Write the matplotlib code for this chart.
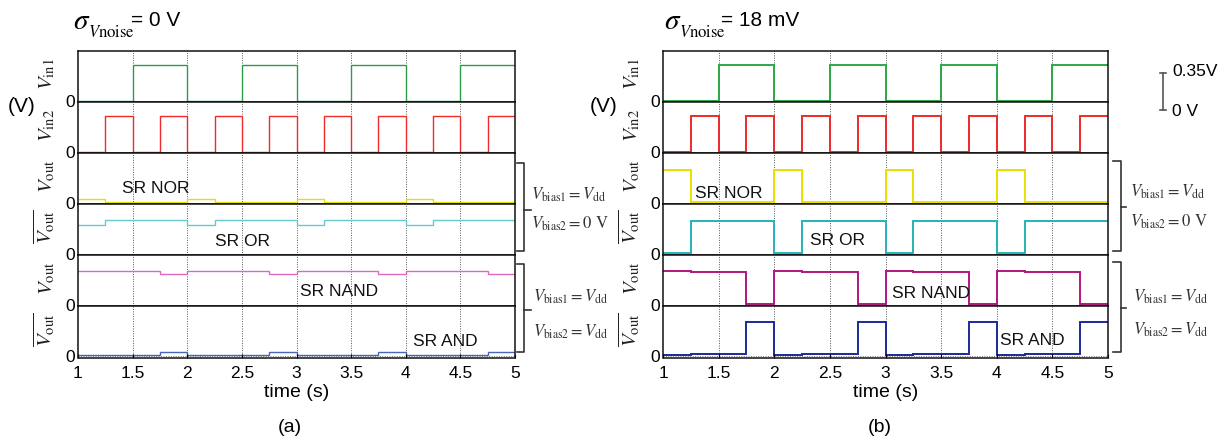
import matplotlib
matplotlib.use('Agg')
import matplotlib.pyplot as plt
from matplotlib.lines import Line2D

plt.rcParams['mathtext.fontset'] = 'stix'
plt.rcParams['font.family'] = ['Liberation Sans', 'DejaVu Sans']

W, H = 1228, 441

# ---------------- data ----------------
# segment edges (s): each signal is a piecewise-constant level per 0.25 s segment
edges = [1.0, 1.25, 1.5, 1.75, 2.0, 2.25, 2.5, 2.75, 3.0,
         3.25, 3.5, 3.75, 4.0, 4.25, 4.5, 4.75, 5.0]
xticks = [1, 1.5, 2, 2.5, 3, 3.5, 4, 4.5, 5]
xtick_labels = ['1', '1.5', '2', '2.5', '3', '3.5', '4', '4.5', '5']

vin1 = [0, 0, .35, .35, 0, 0, .35, .35, 0, 0, .35, .35, 0, 0, .35, .35]
vin2 = [0, .35, 0, .35, 0, .35, 0, .35, 0, .35, 0, .35, 0, .35, 0, .35]

# panel (a): sigma = 0 V
nor_a = [.04, .01, .01, .01, .04, .01, .01, .01, .04, .01, .01, .01, .04, .01, .01, .01]
or_a = [.285, .335, .335, .335, .285, .335, .335, .335, .285, .335, .335, .335, .285, .335, .335, .335]
nand_a = [.33, .33, .33, .30, .33, .33, .33, .30, .33, .33, .33, .30, .33, .33, .33, .30]
and_a = [.012, .012, .012, .04, .012, .012, .012, .04, .012, .012, .012, .04, .012, .012, .012, .04]

# panel (b): sigma = 18 mV
nor_b = [.32, .012, .012, .012, .32, .012, .012, .012, .32, .012, .012, .012, .32, .012, .012, .012]
or_b = [.012, .32, .32, .32, .012, .32, .32, .32, .012, .32, .32, .32, .012, .32, .32, .32]
nand_b = [.33, .325, .325, .012, .33, .325, .325, .012, .33, .325, .325, .012, .33, .325, .325, .012]
and_b = [.012, .02, .02, .33, .012, .02, .02, .33, .012, .02, .02, .33, .012, .02, .02, .33]

row_labels = [r'$V_{\rm in1}$', r'$V_{\rm in2}$', r'$V_{\rm out}$',
              r'$\overline{V_{\rm out}}$', r'$V_{\rm out}$', r'$\overline{V_{\rm out}}$']
gate_names = ['SR NOR', 'SR OR', 'SR NAND', 'SR AND']

colors_a = ['#2a9d48', '#ee2a2a', '#e6e000', '#66c9d2', '#e066c0', '#4a66b8']
colors_b = ['#2aa848', '#ee2a2a', '#ecdf00', '#22b5b8', '#b0177f', '#1c2a98']

fig = plt.figure(figsize=(W / 100, H / 100), dpi=100)


def fx(x):
    return x / W


def fy(y):
    return 1 - y / H


top_px, bot_px = 51.0, 357.5
row_h = (bot_px - top_px) / 6


def make_panel(left_px, width_px, series, colors, lw, gate_pos, title_x, eq_x, title_val):
    axes = []
    for i, (vals, col) in enumerate(zip(series, colors)):
        y_top = top_px + i * row_h
        ax = fig.add_axes([fx(left_px), fy(y_top + row_h), width_px / W, row_h / H])
        ax.stairs(vals, edges, color=col, lw=lw, baseline=None)
        ax.set_xlim(1, 5)
        ax.set_ylim(-0.012, 0.485)
        for xv in xticks[1:-1]:
            ax.axvline(xv, color='#555555', ls=(0, (1, 1.5)), lw=0.7, zorder=0)
        ax.axhline(0, color='#777777', ls=(0, (1, 1.5)), lw=0.7, zorder=0)
        ax.set_yticks([0])
        ax.set_yticklabels(['0'], fontsize=12.5)
        ax.tick_params(axis='y', length=0, pad=2)
        ax.set_xticks(xticks)
        if i == 5:
            ax.set_xticklabels(xtick_labels, fontsize=12.5)
            ax.tick_params(axis='x', direction='in', length=3, pad=6)
        else:
            ax.set_xticklabels([])
            ax.tick_params(axis='x', length=0)
        for s in ax.spines.values():
            s.set_linewidth(1.1)
            s.set_color('#111111')
        ax.set_ylabel(row_labels[i], fontsize=15, color='#222222')
        ax.yaxis.set_label_coords(-0.048, 0.55)
        axes.append(ax)
    for (name, (gx, gy)), ax in zip(zip(gate_names, gate_pos), axes[2:]):
        ax.text(gx, gy, name, transform=ax.transAxes, fontsize=12.5,
                ha='left', va='center', color='#111111')
    axes[-1].set_xlabel('time (s)', fontsize=14, labelpad=2)
    # title: sigma with subscript "Vnoise", then "= value"
    fig.text(fx(title_x), fy(21), r'$\sigma$', fontsize=21, ha='left', va='center')
    fig.text(fx(title_x + 15), fy(32), r'$V\mathrm{noise}$', fontsize=12,
             ha='left', va='center')
    fig.text(fx(eq_x), fy(21), title_val, fontsize=15, ha='left', va='center')
    return axes


make_panel(78, 437, [vin1, vin2, nor_a, or_a, nand_a, and_a], colors_a, 1.0,
           [(0.10, 0.31), (0.313, 0.27), (0.508, 0.30), (0.767, 0.31)], 73, 131, '= 0 V')
make_panel(663, 445, [vin1, vin2, nor_b, or_b, nand_b, and_b], colors_b, 1.4,
           [(0.072, 0.22), (0.33, 0.29), (0.515, 0.25), (0.757, 0.33)], 664, 721, '= 18 mV')

# (V) labels and panel captions
fig.text(fx(22), fy(107), '(V)', fontsize=15, ha='center', va='center')
fig.text(fx(604), fy(107), '(V)', fontsize=15, ha='center', va='center')
fig.text(fx(290), fy(428), '(a)', fontsize=14, ha='center', va='center')
fig.text(fx(880), fy(428), '(b)', fontsize=14, ha='center', va='center')


def line(xs, ys, **kw):
    fig.add_artist(Line2D([fx(x) for x in xs], [fy(y) for y in ys],
                          transform=fig.transFigure, **kw))


def bracket(x, ytop, ybot, ymid, arm=7, tick=7):
    kw = dict(color='#333333', lw=1.2)
    line([x - arm, x, x, x - arm], [ytop, ytop, ybot, ybot], **kw)
    line([x, x + tick], [ymid, ymid], **kw)


bracket(524, 163, 251, 210)
bracket(524, 264, 352, 310)
bracket(1121, 161, 251, 207, arm=8, tick=5)
bracket(1121, 262, 352, 308, arm=8, tick=5)

bias_kw = dict(fontsize=12, ha='left', va='center', color='#333333')
fig.text(fx(531), fy(195), r'$V_{\rm bias1} = V_{\rm dd}$', **bias_kw)
fig.text(fx(531), fy(224), r'$V_{\rm bias2} = 0\ \mathrm{V}$', **bias_kw)
fig.text(fx(533), fy(297), r'$V_{\rm bias1} = V_{\rm dd}$', **bias_kw)
fig.text(fx(533), fy(332), r'$V_{\rm bias2} = V_{\rm dd}$', **bias_kw)
fig.text(fx(1130), fy(192), r'$V_{\rm bias1} = V_{\rm dd}$', **bias_kw)
fig.text(fx(1130), fy(222), r'$V_{\rm bias2} = 0\ \mathrm{V}$', **bias_kw)
fig.text(fx(1133), fy(297), r'$V_{\rm bias1} = V_{\rm dd}$', **bias_kw)
fig.text(fx(1133), fy(330), r'$V_{\rm bias2} = V_{\rm dd}$', **bias_kw)

# scale bar
sb = dict(color='#555555', lw=1.2)
line([1163, 1163], [73, 110], **sb)
line([1160, 1166], [73, 73], **sb)
line([1160, 1166], [110, 110], **sb)
fig.text(fx(1172), fy(72), '0.35V', fontsize=12.5, ha='left', va='center')
fig.text(fx(1172), fy(111), '0 V', fontsize=12.5, ha='left', va='center')

fig.savefig('out.png', dpi=100)
